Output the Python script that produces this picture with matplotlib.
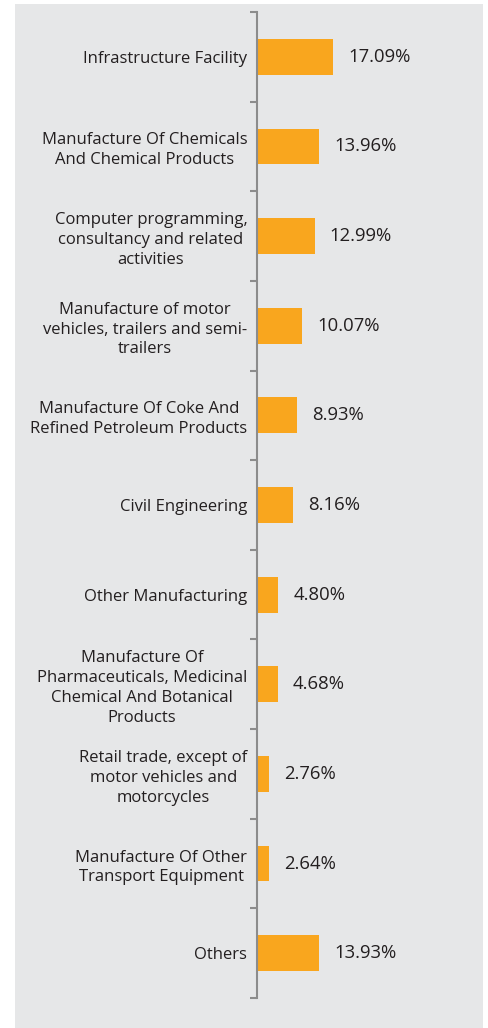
import matplotlib
matplotlib.use('Agg')
import matplotlib.pyplot as plt
from matplotlib.patches import Rectangle
from matplotlib.ticker import FixedLocator

sectors = [
    'Infrastructure Facility',
    'Manufacture Of Chemicals\nAnd Chemical Products',
    'Computer programming,\nconsultancy and related\nactivities',
    'Manufacture of motor\nvehicles, trailers and semi-\ntrailers',
    'Manufacture Of Coke And\nRefined Petroleum Products',
    'Civil Engineering',
    'Other Manufacturing',
    'Manufacture Of\nPharmaceuticals, Medicinal\nChemical And Botanical\nProducts',
    'Retail trade, except of\nmotor vehicles and\nmotorcycles',
    'Manufacture Of Other\nTransport Equipment',
    'Others',
]
shares = [17.09, 13.96, 12.99, 10.07, 8.93, 8.16, 4.80, 4.68, 2.76, 2.64, 13.93]

BAR = '#F9A61E'
BG = '#E6E7E8'
TXT = '#231F20'
AXIS = '#8C8C8C'

plt.rcParams['font.family'] = ['Open Sans', 'DejaVu Sans']

W, H = 488, 1028
fig = plt.figure(figsize=(W / 100, H / 100), dpi=100, facecolor='white')
# grey panel behind the chart
fig.add_artist(Rectangle((15 / W, 0), 468 / W, 1 - 4 / H, transform=fig.transFigure,
                         facecolor=BG, edgecolor='none', zorder=-10))

ax = fig.add_axes([257 / W, 30 / H, 226 / W, 986 / H])
ax.set_facecolor('none')
ax.set_zorder(1)

y = list(range(len(sectors)))
ax.barh(y, shares, height=0.4, color=BAR, zorder=2)
for yi, v in zip(y, shares):
    ax.annotate(f'{v:.2f}%', (v, yi), xytext=(11, 0), textcoords='offset points',
                va='center', ha='left', fontsize=13.3, color=TXT)

ax.set_xlim(0, 51)
ax.set_ylim(len(sectors) - 0.5, -0.5)

for s in ['top', 'right', 'bottom']:
    ax.spines[s].set_visible(False)
ax.spines['left'].set_color(AXIS)
ax.spines['left'].set_linewidth(1.5)
ax.set_xticks([])

ax.set_yticks(y)
ax.set_yticklabels(sectors, fontsize=12, color=TXT)
for lbl in ax.get_yticklabels():
    lbl.set_multialignment('center')
    lbl.set_linespacing(1.32)
ax.tick_params(axis='y', which='major', length=0, pad=7)
ax.yaxis.set_minor_locator(FixedLocator([i - 0.5 for i in range(len(sectors) + 1)]))
ax.tick_params(axis='y', which='minor', length=5, width=1.5, color=AXIS)

fig.savefig('out.png', dpi=100, facecolor=fig.get_facecolor())
